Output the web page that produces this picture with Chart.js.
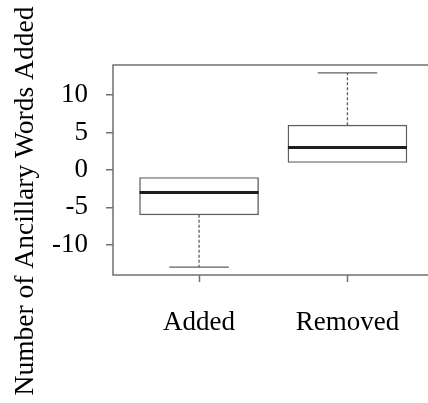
<!DOCTYPE html>
<html>
<head>
<meta charset="utf-8">
<script src="https://cdn.jsdelivr.net/npm/chart.js@4"></script>
<style>
  html, body { margin: 0; padding: 0; background: #fff; overflow: hidden; }
  canvas { display: block; }
</style>
</head>
<body>
<canvas id="box" width="440" height="403"></canvas>
<script>
// boxplot: Added vs Removed

const categories = ['Added', 'Removed'];
const mins = [-13, 1];
const q1s = [-6, 1];
const medians = [-3, 3];
const q3s = [-1, 6];
const maxs = [-1, 13];
const yTicks = [-10, -5, 0, 5, 10];
const yTitle = 'Number of Ancillary Words Added';

const lineColor = '#5e5e5e';
const frameColor = '#707070';
const serif = "'Liberation Serif', 'DejaVu Serif', serif";

// median, whiskers and staples drawn from the scales
const boxExtras = {
  id: 'boxExtras',
  afterDatasetsDraw(chart) {
    const ctx = chart.ctx;
    const x = chart.scales.x, y = chart.scales.y;
    const boxW = chart.getDatasetMeta(0).data[0].width;
    ctx.save();
    categories.forEach((c, i) => {
      const cx = x.getPixelForValue(i + 1);
      // whiskers
      ctx.strokeStyle = lineColor;
      ctx.lineWidth = 1.3;
      ctx.setLineDash([3, 2]);
      ctx.beginPath();
      ctx.moveTo(cx, y.getPixelForValue(q3s[i]));
      ctx.lineTo(cx, y.getPixelForValue(maxs[i]));
      ctx.moveTo(cx, y.getPixelForValue(q1s[i]));
      ctx.lineTo(cx, y.getPixelForValue(mins[i]));
      ctx.stroke();
      // staples (skip when they sit on the box edge)
      ctx.setLineDash([]);
      ctx.beginPath();
      [[mins[i], q1s[i]], [maxs[i], q3s[i]]].forEach(([v, edge]) => {
        if (v === edge) return;
        const py = y.getPixelForValue(v);
        ctx.moveTo(cx - boxW / 4, py);
        ctx.lineTo(cx + boxW / 4, py);
      });
      ctx.stroke();
      // median
      ctx.strokeStyle = '#1e1e1e';
      ctx.lineWidth = 3;
      ctx.beginPath();
      const my = y.getPixelForValue(medians[i]);
      ctx.moveTo(cx - boxW / 2, my);
      ctx.lineTo(cx + boxW / 2, my);
      ctx.stroke();
    });
    ctx.restore();
  },
  afterDraw(chart) {
    const ctx = chart.ctx;
    const a = chart.chartArea;
    const x = chart.scales.x;
    ctx.save();
    // frame
    ctx.strokeStyle = frameColor;
    ctx.lineWidth = 1.5;
    ctx.strokeRect(a.left, a.top, a.right - a.left, a.bottom - a.top);
    // x tick marks
    ctx.beginPath();
    x.ticks.forEach(t => {
      const px = Math.round(x.getPixelForValue(t.value)) + 0.5;
      ctx.moveTo(px, a.bottom);
      ctx.lineTo(px, a.bottom + 7);
    });
    ctx.stroke();
    // y title
    ctx.fillStyle = '#000';
    ctx.font = '27.5px ' + serif;
    ctx.textAlign = 'center';
    ctx.textBaseline = 'alphabetic';
    ctx.translate(33, 201);
    ctx.rotate(-Math.PI / 2);
    ctx.fillText(yTitle, 0, 0);
    ctx.restore();
  }
};

const box = document.getElementById('box').getContext('2d');

const myBoxChart = new Chart(box, {
  type: 'bar',
  data: {
    datasets: [{
      data: categories.map((c, i) => ({ x: i + 1, y: [q1s[i], q3s[i]] })),
      backgroundColor: '#fff',
      borderColor: lineColor,
      borderWidth: 1.4,
      borderSkipped: false,
      barThickness: 119,
    }],
  },
  plugins: [boxExtras],
  options: {
    responsive: false,
    animation: false,
    layout: {
      padding: { top: 65, right: 6.5, left: 0, bottom: 0 }
    },
    scales: {
      x: {
        type: 'linear',
        offset: false,
        min: 0.42,
        max: 2.58,
        afterBuildTicks: function(scale) {
          scale.ticks = categories.map((c, i) => ({ value: i + 1 }));
        },
        afterFit: function(scale) {
          scale.height = 128;
        },
        grid: { display: false },
        border: { display: false },
        ticks: {
          color: '#000',
          font: { family: serif, size: 27 },
          padding: 24,
          autoSkip: false,
          maxRotation: 0,
          minRotation: 0,
          callback: function(val) {
            return categories[val - 1];
          }
        },
      },
      y: {
        min: -14.04,
        max: 14.04,
        afterBuildTicks: function(scale) {
          scale.ticks = yTicks.map(v => ({ value: v }));
        },
        afterFit: function(scale) {
          scale.width = 113;
        },
        grid: {
          drawOnChartArea: false,
          tickLength: 7,
          color: frameColor,
          lineWidth: 1.5,
        },
        border: { display: false },
        ticks: {
          color: '#000',
          font: { family: serif, size: 27 },
          padding: 18,
        },
      },
    },
    plugins: {
      legend: { display: false },
      tooltip: { enabled: false }
    }
  },
});
</script>
</body>
</html>
